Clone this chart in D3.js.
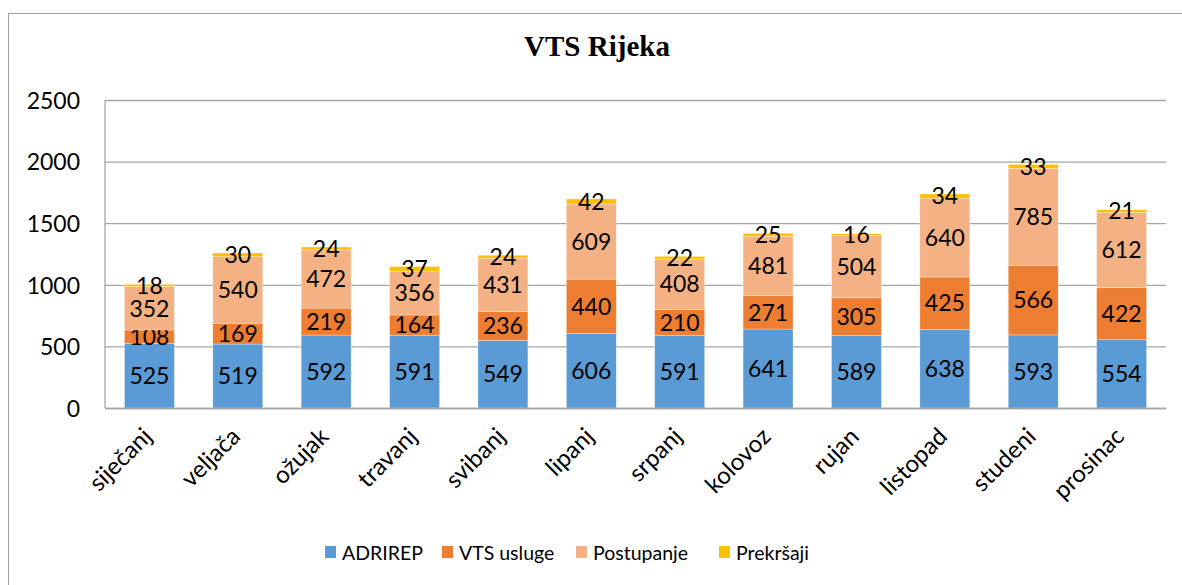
<!DOCTYPE html>
<html>
<head>
<meta charset="utf-8">
<script src="https://cdn.jsdelivr.net/npm/d3@7"></script>
<style>
    body { margin: 0; background: #fff; }
    svg text { font-family: Lato, 'Open Sans', sans-serif; fill: #000; }
</style>
</head>
<body>
<div id="chart"></div>
<script>
//Datos
let months = ['siječanj', 'veljača', 'ožujak', 'travanj', 'svibanj', 'lipanj', 'srpanj', 'kolovoz', 'rujan', 'listopad', 'studeni', 'prosinac'];
let seriesNames = ['ADRIREP', 'VTS usluge', 'Postupanje', 'Prekršaji'];
let adrirep = [525, 519, 592, 591, 549, 606, 591, 641, 589, 638, 593, 554];
let vtsUsluge = [108, 169, 219, 164, 236, 440, 210, 271, 305, 425, 566, 422];
let postupanje = [352, 540, 472, 356, 431, 609, 408, 481, 504, 640, 785, 612];
let prekrsaji = [18, 30, 24, 37, 24, 42, 22, 25, 16, 34, 33, 21];
let yTicks = [0, 500, 1000, 1500, 2000, 2500];

//Colores
let colors = ['#5B9BD5', '#ED7D31', '#F4B183', '#FFC000'];

let W = 1182, H = 585;
let margin = {top: 100, right: 16, bottom: 177, left: 105};
let width = W - margin.left - margin.right,
    height = H - margin.top - margin.bottom;

let svg = d3.select('#chart').append('svg')
    .attr('width', W)
    .attr('height', H);

//Borde exterior
svg.append('rect')
    .attr('x', 8.5).attr('y', 13.5)
    .attr('width', W + 20).attr('height', H + 20)
    .attr('fill', 'none')
    .attr('stroke', '#a0a0a0')
    .attr('stroke-width', 1);

//Título
svg.append('text')
    .attr('x', 597).attr('y', 56)
    .attr('text-anchor', 'middle')
    .style('font-family', "'Liberation Serif', 'Times New Roman', serif")
    .style('font-weight', 'bold')
    .style('font-size', '29px')
    .text('VTS Rijeka');

let chart = svg.append('g')
    .attr('transform', 'translate(' + margin.left + ',' + margin.top + ')');

//Tabla apilada
let table = months.map(function(m, i) {
    return {mes: m, s0: adrirep[i], s1: vtsUsluge[i], s2: postupanje[i], s3: prekrsaji[i]};
});
let keys = ['s0', 's1', 's2', 's3'];
let stacked = d3.stack().keys(keys)(table);

let x = d3.scaleBand()
    .domain(months)
    .range([0, width])
    .paddingInner(0.435)
    .paddingOuter(0.22);

let y = d3.scaleLinear()
    .domain([0, 2500])
    .range([height, 0]);

//Eje Y con líneas de cuadrícula
let yAxis = function(g) {
    g.call(d3.axisLeft(y).tickValues(yTicks).tickFormat(d3.format('d')).tickSize(-width).tickPadding(25));
    g.call(function(g) { g.select('.domain').remove(); });
    g.selectAll('.tick line').attr('stroke', '#a6a6a6').attr('stroke-width', 1.3);
    g.selectAll('.tick text').style('font-size', '23px').attr('dy', '0.36em');
};
chart.append('g').call(yAxis);

//Línea vertical izquierda
chart.append('line')
    .attr('x1', 0).attr('x2', 0)
    .attr('y1', 0).attr('y2', height)
    .attr('stroke', '#a6a6a6').attr('stroke-width', 1.3);

//Barras
let layers = chart.selectAll('.layer')
    .data(stacked)
    .enter()
    .append('g')
    .attr('class', 'layer')
    .style('fill', function(d, i) { return colors[i]; });

layers.selectAll('rect')
    .data(function(d) { return d; })
    .enter()
    .append('rect')
    .attr('x', function(d) { return x(d.data.mes); })
    .attr('y', function(d) { return y(d[1]); })
    .attr('height', function(d) { return y(d[0]) - y(d[1]); })
    .attr('width', x.bandwidth())
    .attr('stroke', 'rgba(255,255,255,0.5)')
    .attr('stroke-width', 0.6);

//Etiquetas de datos
layers.selectAll('text')
    .data(function(d) { return d; })
    .enter()
    .append('text')
    .attr('x', function(d) { return x(d.data.mes) + x.bandwidth() / 2; })
    .attr('y', function(d) { return (y(d[0]) + y(d[1])) / 2; })
    .attr('dy', '0.36em')
    .attr('text-anchor', 'middle')
    .style('font-size', '23px')
    .style('fill', '#000')
    .text(function(d) { return d[1] - d[0]; });

//Eje X
let xAxis = function(g) {
    g.call(d3.axisBottom(x).tickSize(0).tickPadding(0));
    g.select('.domain').attr('stroke', '#a6a6a6').attr('stroke-width', 1.3);
    g.selectAll('.tick text')
        .style('font-size', '24px')
        .attr('text-anchor', 'end')
        .attr('dy', 0)
        .attr('transform', 'translate(4,30) rotate(-45)');
};
chart.append('g')
    .attr('transform', 'translate(0,' + height + ')')
    .call(xAxis);

//Leyenda
let legendX = [325, 442, 576, 719];
let legend = svg.append('g').selectAll('g')
    .data(seriesNames)
    .enter()
    .append('g')
    .attr('transform', function(d, i) { return 'translate(' + legendX[i] + ',546)'; });

legend.append('rect')
    .attr('width', 11).attr('height', 12)
    .style('fill', function(d, i) { return colors[i]; });

legend.append('text')
    .attr('x', 17).attr('y', 14)
    .style('font-size', '19.5px')
    .text(function(d) { return d; });
</script>
</body>
</html>
